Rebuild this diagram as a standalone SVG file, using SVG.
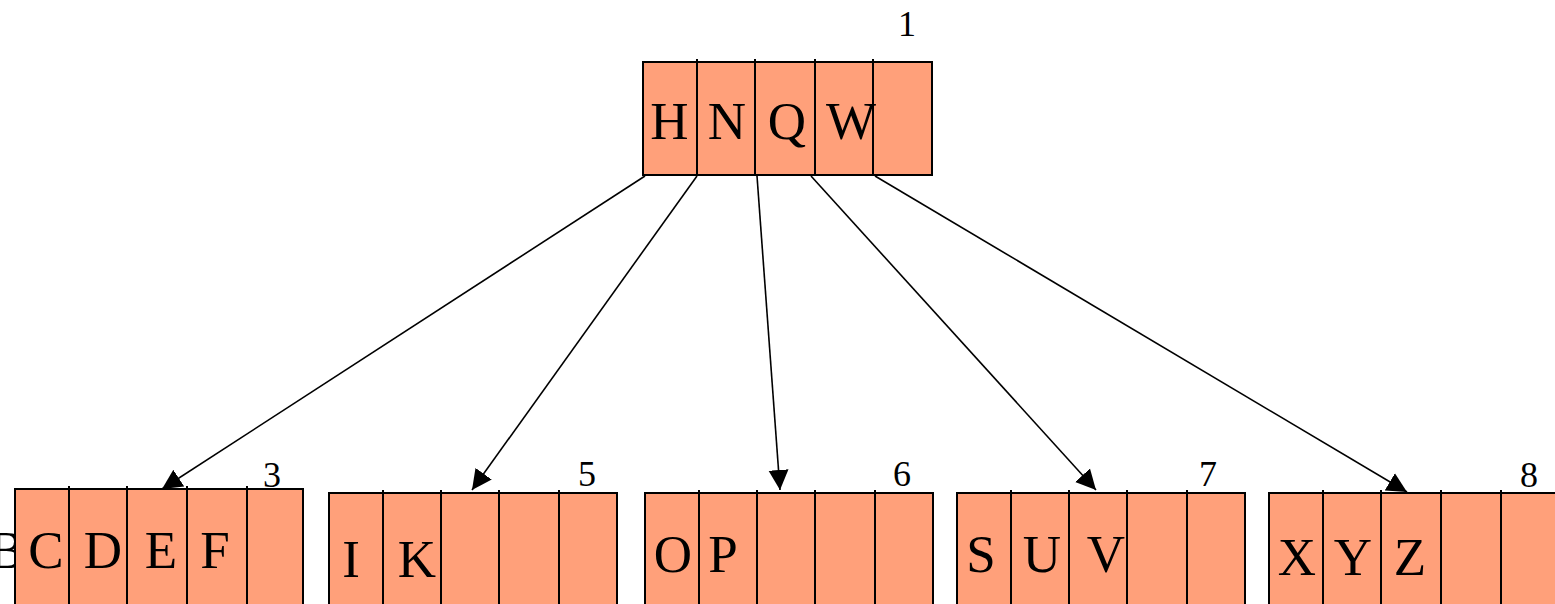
<svg xmlns="http://www.w3.org/2000/svg" width="1555" height="604" viewBox="0 0 1555 604">
  <style>
    .cell { fill: #ffa07a; stroke: #000; stroke-width: 2; }
    .div { stroke: #000; stroke-width: 2; }
    .key { font-family: "Liberation Serif", "Times New Roman", serif; font-size: 53px; fill: #000; text-anchor: middle; }
    .num { font-family: "Liberation Serif", "Times New Roman", serif; font-size: 36px; fill: #000; text-anchor: middle; }
    .edge { stroke: #000; stroke-width: 1.6; fill: none; marker-end: url(#head); }
  </style>
  <defs>
    <marker id="head" markerUnits="userSpaceOnUse" markerWidth="22" markerHeight="22" refX="20" refY="10" orient="auto" viewBox="0 0 22 20">
      <path d="M0,0 L20,10 L0,20 Z" fill="#000"/>
    </marker>
  </defs>

  <rect width="1555" height="604" fill="#fff"/>

  <!-- root page -->
  <g id="node1">
    <text class="num" x="907" y="36">1</text>
    <rect class="cell" x="643" y="62" width="289" height="113"/>
    <path class="div" d="M697,59V175 M755,59V175 M815,59V175 M873,59V175"/>
    <text class="key" x="669.5" y="139">H</text>
    <text class="key" x="727" y="139">N</text>
    <text class="key" x="787" y="139">Q</text>
    <text class="key" x="851" y="139">W</text>
  </g>

  <!-- leaf pages -->
  <g id="node3">
    <text class="key" x="7" y="568" text-anchor="start">B</text>
    <text class="num" x="272" y="487">3</text>
    <rect class="cell" x="15" y="489" width="288" height="125"/>
    <path class="div" d="M69,486V604 M127,486V604 M187,486V604 M247,486V604"/>
    <text class="key" x="46" y="568">C</text>
    <text class="key" x="103" y="568">D</text>
    <text class="key" x="161" y="568">E</text>
    <text class="key" x="215" y="568">F</text>
  </g>

  <g id="node5">
    <text class="num" x="587" y="486">5</text>
    <rect class="cell" x="329" y="493" width="288" height="121"/>
    <path class="div" d="M383,490V604 M441,490V604 M499,490V604 M559,490V604"/>
    <text class="key" x="351" y="577">I</text>
    <text class="key" x="417" y="577">K</text>
  </g>

  <g id="node6">
    <text class="num" x="902" y="486">6</text>
    <rect class="cell" x="645" y="493" width="288" height="121"/>
    <path class="div" d="M699,490V604 M757,490V604 M815,490V604 M875,490V604"/>
    <text class="key" x="673" y="572">O</text>
    <text class="key" x="723" y="572">P</text>
  </g>

  <g id="node7">
    <text class="num" x="1208" y="486">7</text>
    <rect class="cell" x="957" y="493" width="288" height="121"/>
    <path class="div" d="M1011,490V604 M1069,490V604 M1127,490V604 M1187,490V604"/>
    <text class="key" x="981" y="572">S</text>
    <text class="key" x="1042" y="572">U</text>
    <text class="key" x="1106" y="572">V</text>
  </g>

  <g id="node8">
    <text class="num" x="1529" y="487">8</text>
    <rect class="cell" x="1269" y="493" width="300" height="121"/>
    <path class="div" d="M1323,490V604 M1381,490V604 M1441,490V604 M1501,490V604"/>
    <text class="key" x="1297" y="575">X</text>
    <text class="key" x="1353" y="575">Y</text>
    <text class="key" x="1410" y="575">Z</text>
  </g>

  <!-- child pointers -->
  <g id="edges">
    <line class="edge" x1="645" y1="176" x2="162" y2="489"/>
    <line class="edge" x1="697" y1="176" x2="472" y2="490"/>
    <line class="edge" x1="757" y1="176" x2="780" y2="490"/>
    <line class="edge" x1="811" y1="176" x2="1096" y2="490"/>
    <line class="edge" x1="875" y1="176" x2="1407" y2="492"/>
  </g>
</svg>
